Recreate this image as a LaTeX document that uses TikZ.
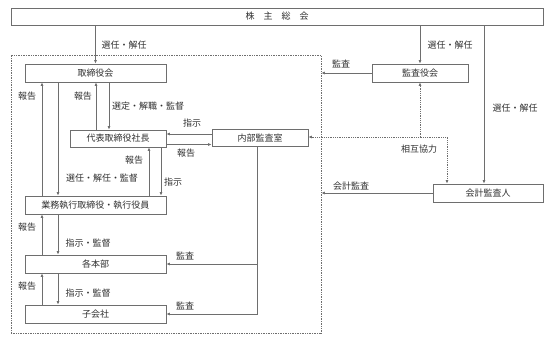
\documentclass[tikz,border=0pt]{standalone}
\usepackage{fontspec}
\newfontfamily\jpfont{Noto Sans CJK JP}
\usetikzlibrary{arrows.meta}
\definecolor{linegray}{HTML}{6E6E6E}
\definecolor{textgray}{HTML}{303030}

\begin{document}
\begin{tikzpicture}[x=1pt, y=-1pt, >={Latex[length=3.5pt,width=3pt]},
    every node/.style={font=\jpfont\fontsize{9}{10}\selectfont, text=textgray},
    box/.style={draw=linegray, line width=0.8pt, fill=white, minimum height=18pt, inner sep=0pt},
    link/.style={->, draw=linegray, line width=0.8pt},
    coop/.style={draw=linegray, line width=0.8pt, densely dotted}]
    \useasboundingbox (0,0) rectangle (555,343);

    % Company frame (dotted)
    \node[draw=linegray, line width=0.7pt, densely dotted, minimum width=310pt, minimum height=278pt,
          inner sep=0pt] (company) at (166,194) {};

    % Boxes
    \node[box, minimum width=532pt, minimum height=17pt] (meeting) at (277,16.5) {株　主　総　会};
    \node[box, minimum width=141pt] (board) at (95.5,73) {取締役会};
    \node[box, minimum width=96pt, minimum height=17pt] (president) at (118,138.5) {代表取締役社長};
    \node[box, minimum width=96pt, minimum height=17pt] (internal) at (260,138) {内部監査室};
    \node[box, minimum width=141pt] (executive) at (95.5,205) {業務執行取締役・執行役員};
    \node[box, minimum width=141pt] (divisions) at (95.5,264) {各本部};
    \node[box, minimum width=141pt] (subsidiaries) at (95.5,314) {子会社};
    \node[box, minimum width=96pt] (auditors) at (420,73) {監査役会};
    \node[box, minimum width=110pt] (accountant) at (488,193) {会計監査人};

    % Shareholders' meeting appoints
    \draw[link] (board.north |- meeting.south) -- (board.north);
    \draw[link] (auditors.north |- meeting.south) -- (auditors.north);
    \draw[link] ([xshift=-4pt]accountant.north |- meeting.south) -- ([xshift=-4pt]accountant.north);
    \node (appoint1) at (124,45) {選任・解任};
    \node (appoint2) at (450,45) {選任・解任};
    \node (appoint3) at (515,108) {選任・解任};

    % Board and president
    \draw[link] ([xshift=-22pt]president.north) -- ([xshift=-22pt]president.north |- board.south);
    \draw[link] ([xshift=-9pt]president.north |- board.south) -- ([xshift=-9pt]president.north);
    \node (report1) at (83,96) {報告};
    \node (select) at (148,106) {選定・解職・監督};

    % Board and executives
    \draw[link] ([xshift=-53.5pt]executive.north) -- ([xshift=-53.5pt]board.south);
    \draw[link] ([xshift=-37.5pt]board.south) -- ([xshift=-37.5pt]executive.north);
    \node (report2) at (27,96) {報告};
    \node (appoint4) at (102,178) {選任・解任・監督};

    % President and executives
    \draw[link] ([xshift=31pt]president.south |- executive.north) -- ([xshift=31pt]president.south);
    \draw[link] ([xshift=43pt]president.south) -- ([xshift=43pt]president.south |- executive.north);
    \node (report3) at (134,160) {報告};
    \node (order1) at (173,182) {指示};

    % President and internal audit
    \draw[link] ([yshift=-6pt]president.east) -- ([yshift=-6pt]president.east -| internal.west);
    \draw[link] ([yshift=4.5pt]president.east -| internal.west) -- ([yshift=4.5pt]president.east);
    \node (order2) at (192,123) {指示};
    \node (report4) at (186,153) {報告};

    % Executives, divisions and subsidiaries
    \draw[link] ([xshift=-53.5pt]divisions.north) -- ([xshift=-53.5pt]executive.south);
    \draw[link] ([xshift=-37.5pt]executive.south) -- ([xshift=-37.5pt]divisions.north);
    \draw[link] ([xshift=-53.5pt]subsidiaries.north) -- ([xshift=-53.5pt]divisions.south);
    \draw[link] ([xshift=-37.5pt]divisions.south) -- ([xshift=-37.5pt]subsidiaries.north);
    \node (report5) at (27,227) {報告};
    \node (direct1) at (88,243) {指示・監督};
    \node (report6) at (27,286) {報告};
    \node (direct2) at (88,293) {指示・監督};

    % Internal audit of divisions and subsidiaries
    \draw[link] ([xshift=-3pt]internal.south) |- (divisions.east);
    \draw[link] ([xshift=-3pt]internal.south) |- (subsidiaries.east);
    \node (audit1) at (185,256) {監査};
    \node (audit2) at (185,306) {監査};

    % Audits of the company
    \draw[link] (auditors.west) -- (auditors.west -| company.east);
    \draw[link] (accountant.west) -- (accountant.west -| company.east);
    \node (audit3) at (341,64) {監査};
    \node (audit4) at (351,186) {会計監査};

    % Mutual cooperation
    \coordinate (corner) at (447,137);
    \draw[coop, <->] (internal.east |- corner) -- (corner) -- (corner |- accountant.north);
    \draw[coop, ->] (auditors.south |- corner) -- (auditors.south);
    \node (coop) at (419,149) {相互協力};
\end{tikzpicture}
\end{document}
